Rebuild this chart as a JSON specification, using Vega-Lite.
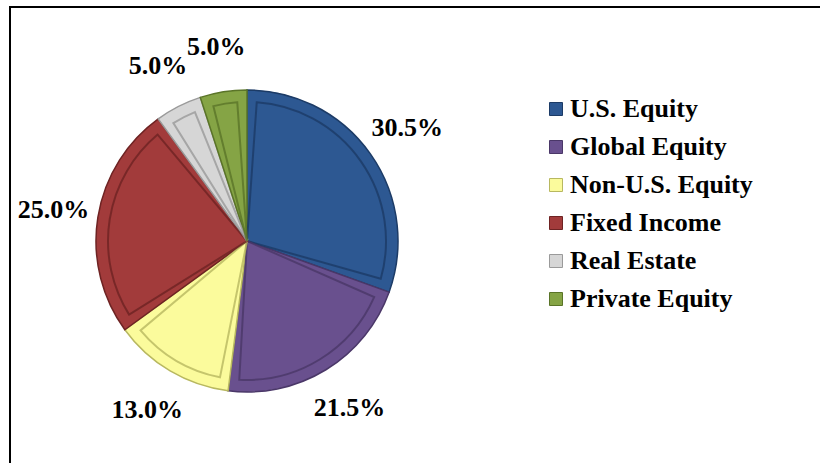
{
  "$schema": "https://vega.github.io/schema/vega-lite/v6.json",
  "width": 474,
  "height": 468,
  "padding": {"left": 10, "top": 6, "right": 0, "bottom": 0},
  "background": "white",
  "view": {"style": "cell"},
  "config": {
    "view": {"stroke": "black", "strokeWidth": 2, "strokeDash": [474, 942, 468]},
    "style": {
      "cell": {"stroke": "black", "strokeWidth": 2, "strokeDash": [474, 942, 468]},
      "view": {"stroke": "black", "strokeWidth": 2, "strokeDash": [474, 942, 468]}
    },
    "legend": {
      "orient": "right",
      "offset": -9,
      "padding": 68,
      "strokeColor": "black",
      "strokeWidth": 2,
      "strokeDash": [360, 3000],
      "titleFont": "Liberation Serif",
      "titleFontSize": 20,
      "titlePadding": 1,
      "titleLimit": 600,
      "labelFont": "Liberation Serif",
      "labelFontWeight": "bold",
      "labelFontSize": 26,
      "labelColor": "black",
      "labelOffset": 1,
      "labelLimit": 400,
      "symbolType": "square",
      "symbolSize": 169,
      "symbolStrokeWidth": 1,
      "symbolStrokeColor": "#444444",
      "rowPadding": 12
    }
  },
  "data": {
    "values": [
      {"category": "U.S. Equity", "share": 0.305, "rank": 1},
      {"category": "Global Equity", "share": 0.215, "rank": 2},
      {"category": "Non-U.S. Equity", "share": 0.13, "rank": 3},
      {"category": "Fixed Income", "share": 0.25, "rank": 4},
      {"category": "Real Estate", "share": 0.05, "rank": 5},
      {"category": "Private Equity", "share": 0.05, "rank": 6}
    ]
  },
  "encoding": {
    "theta": {"field": "share", "type": "quantitative", "stack": true},
    "order": {"field": "rank", "type": "quantitative"}
  },
  "layer": [
    {
      "mark": {"type": "arc", "outerRadius": 151, "strokeWidth": 1.5},
      "encoding": {
        "fill": {
          "field": "category",
          "type": "nominal",
          "scale": {
            "domain": ["U.S. Equity", "Global Equity", "Non-U.S. Equity", "Fixed Income", "Real Estate", "Private Equity"],
            "range": ["#2D5892", "#69508E", "#FBFB9C", "#A23B3B", "#D6D6D6", "#85A445"]
          },
          "legend": {"title": "\u00a0"}
        },
        "stroke": {
          "field": "category",
          "type": "nominal",
          "scale": {
            "domain": ["U.S. Equity", "Global Equity", "Non-U.S. Equity", "Fixed Income", "Real Estate", "Private Equity"],
            "range": ["#1C3B66", "#4A3768", "#B8B860", "#6E2323", "#9A9A9A", "#5A7428"]
          },
          "legend": null
        }
      }
    },
    {
      "mark": {"type": "arc", "outerRadius": 139, "padAngle": 0.14, "filled": false, "strokeWidth": 2, "strokeOpacity": 0.8},
      "encoding": {
        "stroke": {
          "field": "category",
          "type": "nominal",
          "scale": {
            "domain": ["U.S. Equity", "Global Equity", "Non-U.S. Equity", "Fixed Income", "Real Estate", "Private Equity"],
            "range": ["#1C3B66", "#4A3768", "#B8B860", "#6E2323", "#9A9A9A", "#5A7428"]
          },
          "legend": null
        }
      }
    },
    {
      "mark": {"type": "text", "radius": 196, "font": "Liberation Serif", "fontWeight": "bold", "fontSize": 26, "fill": "black"},
      "encoding": {
        "text": {"field": "share", "type": "quantitative", "format": ".1%"}
      }
    }
  ]
}
